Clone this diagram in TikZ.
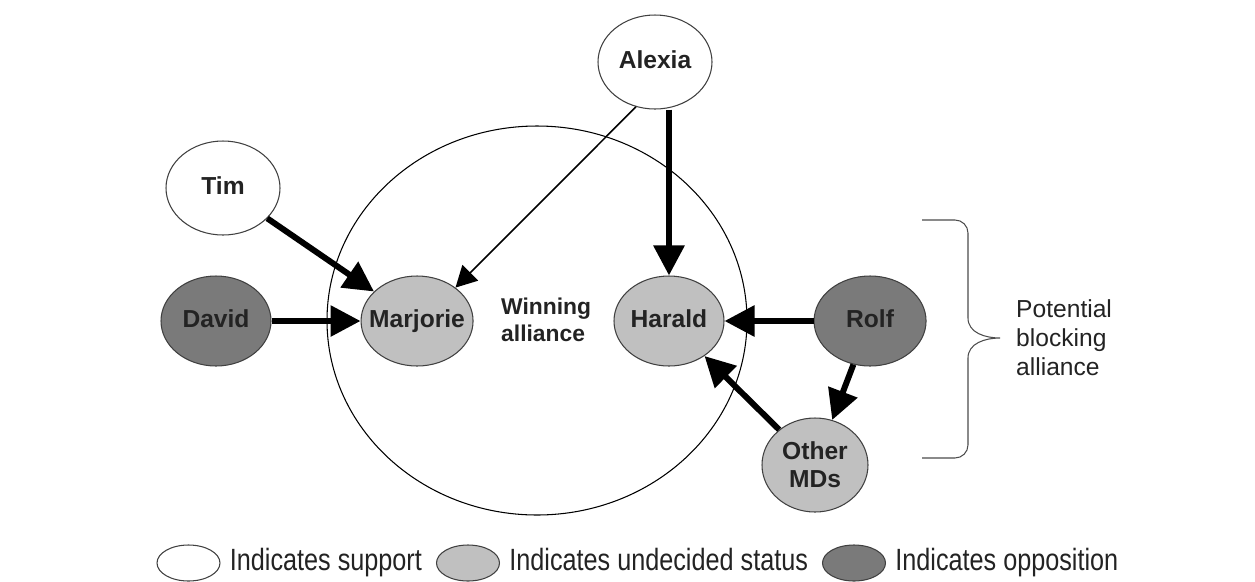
\documentclass[tikz,border=0pt]{standalone}
\usepackage{fontspec}
\setmainfont{Liberation Sans}
\newfontfamily\keyfont[FakeStretch=0.82]{Liberation Sans}
\usetikzlibrary{shapes.geometric, arrows.meta, positioning}
\definecolor{undecided}{RGB}{192,192,192}
\definecolor{opposed}{RGB}{122,122,122}
\definecolor{inkgray}{RGB}{35,35,35}

\begin{document}
\begin{tikzpicture}[node distance=1.78cm,
    actor/.style={ellipse, draw=black!75, line width=0.6pt, inner sep=-6pt,
      minimum width=2.24cm, minimum height=1.8cm, align=center,
      text height=10pt, text depth=3pt,
      font=\fontsize{14}{16}\selectfont\bfseries, text=inkgray},
    support/.style={actor, fill=white},
    undecided/.style={actor, fill=undecided},
    opposed/.style={actor, fill=opposed},
    push/.style={line width=3.4pt, -{Triangle[length=0.6cm,width=0.6cm]}},
    nudge/.style={line width=0.9pt, -{Triangle[length=0.42cm,width=0.44cm]}},
    key/.style={ellipse, draw=black!75, line width=0.6pt, inner sep=0pt,
      minimum width=1.26cm, minimum height=0.72cm},
    keytext/.style={right=0.18cm of #1, inner sep=0pt, text=inkgray,
      text height=12.5pt, text depth=3.5pt,
      font=\keyfont\fontsize{17.5}{19}\selectfont}]
    \useasboundingbox (0,0) rectangle (25.1,-11.62);

    \node (alliance) [ellipse, draw, line width=0.6pt, minimum width=8.4cm, minimum height=7.78cm] at (10.74,-6.41) {};
    \node (winning) [anchor=west, align=left, text=inkgray, font=\fontsize{13}{15.5}\selectfont\bfseries] at (9.9,-6.4) {Winning\\alliance};

    \node (Alexia) [support, minimum width=2.28cm, minimum height=1.88cm] at (13.1,-1.24) {Alexia};
    \node (Tim) [support, minimum width=2.28cm, minimum height=1.88cm] at (4.46,-3.76) {Tim};
    \node (David) [opposed, minimum width=2.2cm] at (4.32,-6.42) {David};
    \node (Marjorie) [undecided, right=of David] {Marjorie};
    \node (Harald) [undecided, minimum width=2.2cm] at (13.38,-6.42) {Harald};
    \node (Rolf) [opposed, right=of Harald] {Rolf};
    \node (Other) [undecided, text height=, text depth=, minimum width=2.12cm, minimum height=1.88cm] at (16.3,-9.3) {Other\\MDs};

    \draw[push] (Tim) -- (Marjorie);
    \draw[push] (David) -- (Marjorie);
    \draw[nudge] (Alexia.247) -- (Marjorie.41);
    \draw[push] (Alexia.south -| Harald.north) -- (Harald.north);
    \draw[push] (Rolf) -- (Harald);
    \draw[push] (Rolf) -- (Other);
    \draw[push] (Other) -- (Harald);

    % brace round the blocking side
    \draw[line width=0.6pt, black!70] (18.44,-4.4) -- (19.1,-4.4) to[out=0,in=90] (19.36,-4.66)
      -- (19.36,-6.36) to[out=-90,in=180] (20.0,-6.76) to[out=180,in=90] (19.36,-7.16)
      -- (19.36,-8.9) to[out=-90,in=0] (19.1,-9.16) -- (18.44,-9.16);
    \node (blocking) [anchor=west, align=left, text=inkgray, font=\fontsize{14}{16.4}\selectfont] at (20.2,-6.76) {Potential\\blocking\\alliance};

    % legend
    \node (keyS) [key, fill=white] at (3.77,-11.26) {};
    \node (keyStext) [keytext=keyS] {Indicates support};
    \node (keyU) [key, fill=undecided] at (9.36,-11.26) {};
    \node (keyUtext) [keytext=keyU] {Indicates undecided status};
    \node (keyO) [key, fill=opposed] at (17.08,-11.26) {};
    \node (keyOtext) [keytext=keyO] {Indicates opposition};
\end{tikzpicture}
\end{document}
